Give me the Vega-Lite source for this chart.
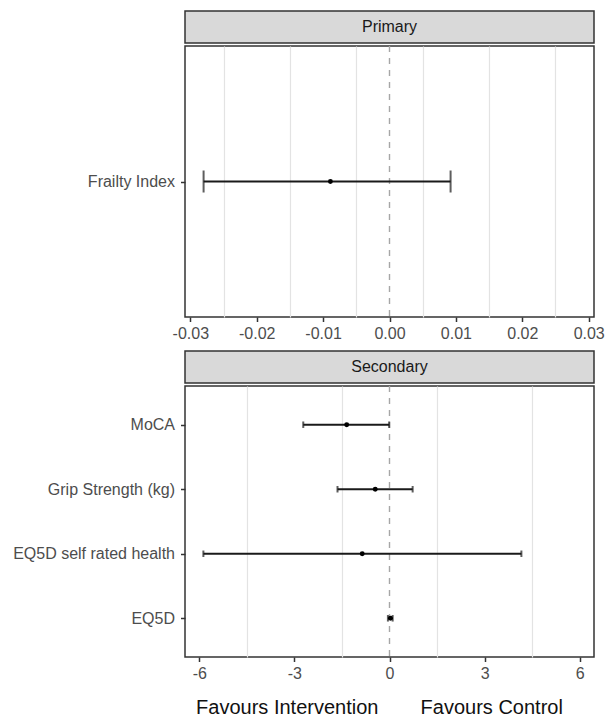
{
  "$schema": "https://vega.github.io/schema/vega-lite/v6.json",
  "padding": {"left": 11, "top": 10, "right": 4, "bottom": 0},
  "spacing": 0,
  "datasets": {
    "est": [
      {"panel": "Primary", "outcome": "Frailty Index", "est": -0.0089, "lo": -0.028, "hi": 0.0092},
      {"panel": "Secondary", "outcome": "MoCA", "est": -1.35, "lo": -2.72, "hi": -0.01},
      {"panel": "Secondary", "outcome": "Grip Strength (kg)", "est": -0.45, "lo": -1.64, "hi": 0.73},
      {"panel": "Secondary", "outcome": "EQ5D self rated health", "est": -0.86, "lo": -5.87, "hi": 4.16},
      {"panel": "Secondary", "outcome": "EQ5D", "est": 0.03, "lo": -0.05, "hi": 0.1}
    ],
    "panels": [{"panel": "Primary"}, {"panel": "Secondary"}],
    "footer": [{"label": "Favours Intervention"}, {"label": "Favours Control"}]
  },
  "config": {
    "font": "Liberation Sans",
    "view": {"stroke": "#333333", "strokeWidth": 1.5},
    "axis": {
      "labelFont": "Liberation Sans",
      "labelFontSize": 16,
      "labelColor": "#4D4D4D",
      "tickColor": "#333333",
      "tickWidth": 1.5,
      "tickSize": 4.5,
      "domain": false,
      "gridColor": "#E3E3E3",
      "gridWidth": 1.2
    }
  },
  "vconcat": [
    {
      "width": 409,
      "height": 32,
      "data": {"name": "panels"},
      "transform": [{"filter": "datum.panel === 'Primary'"}],
      "mark": {"type": "text", "fontSize": 16, "color": "#1A1A1A", "baseline": "middle", "align": "center"},
      "encoding": {"text": {"field": "panel"}},
      "view": {"fill": "#D9D9D9", "stroke": "#333333", "strokeWidth": 1.5}
    },
    {
      "width": 409,
      "height": 271,
      "data": {"name": "est"},
      "transform": [{"filter": "datum.panel === 'Primary'"}],
      "layer": [
        {
          "data": {"name": "panels"},
          "transform": [{"filter": "datum.panel === 'Primary'"}],
          "mark": {"type": "rule", "color": "#A6A6A6", "strokeDash": [6, 6], "strokeWidth": 1.4},
          "encoding": {"x": {"datum": 0, "type": "quantitative"}}
        },
        {
          "encoding": {
            "y": {
              "field": "outcome", "type": "nominal", "sort": ["Frailty Index"],
              "scale": {"type": "point", "padding": 0.6},
              "axis": {"title": null, "labelPadding": 6, "grid": false}
            }
          },
          "layer": [
            {
              "mark": {"type": "rule", "color": "#1A1A1A", "strokeWidth": 2},
              "encoding": {
                "x": {
                  "field": "lo", "type": "quantitative",
                  "scale": {"domain": [-0.0308, 0.0308], "nice": false, "zero": false},
                  "axis": {
                    "title": " ", "titleFontSize": 6, "titlePadding": 1,
                    "grid": true,
                    "tickCount": 30,
                    "values": [-0.03, -0.025, -0.02, -0.015, -0.01, -0.005, 0, 0.005, 0.01, 0.015, 0.02, 0.025, 0.03],
                    "labelPadding": 4,
                    "labelOverlap": false,
                    "labelExpr": "indexof([-0.03, -0.02, -0.01, 0, 0.01, 0.02, 0.03], datum.value) >= 0 ? (datum.value < 0 ? '-' : '') + format(abs(datum.value), '.2f') : ''",
                    "gridOpacity": {"condition": {"test": "indexof([-0.03, -0.02, -0.01, 0, 0.01, 0.02, 0.03], datum.value) >= 0", "value": 0}, "value": 1},
                    "tickOpacity": {"condition": {"test": "indexof([-0.03, -0.02, -0.01, 0, 0.01, 0.02, 0.03], datum.value) >= 0", "value": 1}, "value": 0}
                  }
                },
                "x2": {"field": "hi"}
              }
            },
            {
              "mark": {"type": "tick", "color": "#1A1A1A", "size": 22, "thickness": 2},
              "encoding": {"x": {"field": "lo", "type": "quantitative"}}
            },
            {
              "mark": {"type": "tick", "color": "#1A1A1A", "size": 22, "thickness": 2},
              "encoding": {"x": {"field": "hi", "type": "quantitative"}}
            },
            {
              "mark": {"type": "point", "filled": true, "color": "#000000", "size": 24, "opacity": 1},
              "encoding": {"x": {"field": "est", "type": "quantitative"}}
            }
          ]
        }
      ]
    },
    {
      "width": 409,
      "height": 32,
      "data": {"name": "panels"},
      "transform": [{"filter": "datum.panel === 'Secondary'"}],
      "mark": {"type": "text", "fontSize": 16, "color": "#1A1A1A", "baseline": "middle", "align": "center"},
      "encoding": {"text": {"field": "panel"}},
      "view": {"fill": "#D9D9D9", "stroke": "#333333", "strokeWidth": 1.5}
    },
    {
      "width": 409,
      "height": 271,
      "data": {"name": "est"},
      "transform": [{"filter": "datum.panel === 'Secondary'"}],
      "layer": [
        {
          "data": {"name": "panels"},
          "transform": [{"filter": "datum.panel === 'Secondary'"}],
          "mark": {"type": "rule", "color": "#A6A6A6", "strokeDash": [6, 6], "strokeWidth": 1.4},
          "encoding": {"x": {"datum": 0, "type": "quantitative"}}
        },
        {
          "encoding": {
            "y": {
              "field": "outcome", "type": "nominal",
              "sort": ["MoCA", "Grip Strength (kg)", "EQ5D self rated health", "EQ5D"],
              "scale": {"type": "point", "padding": 0.6},
              "axis": {"title": null, "labelPadding": 6, "grid": false}
            }
          },
          "layer": [
            {
              "mark": {"type": "rule", "color": "#1A1A1A", "strokeWidth": 2},
              "encoding": {
                "x": {
                  "field": "lo", "type": "quantitative",
                  "scale": {"domain": [-6.45, 6.45], "nice": false, "zero": false},
                  "axis": {
                    "title": null,
                    "grid": true,
                    "tickCount": 30,
                    "values": [-6, -4.5, -3, -1.5, 0, 1.5, 3, 4.5, 6],
                    "labelPadding": 4,
                    "labelOverlap": false,
                    "labelExpr": "datum.value % 3 == 0 ? (datum.value < 0 ? '-' : '') + format(abs(datum.value), 'd') : ''",
                    "gridOpacity": {"condition": {"test": "datum.value % 3 == 0", "value": 0}, "value": 1},
                    "tickOpacity": {"condition": {"test": "datum.value % 3 == 0", "value": 1}, "value": 0}
                  }
                },
                "x2": {"field": "hi"}
              }
            },
            {
              "mark": {"type": "tick", "color": "#1A1A1A", "size": 6.5, "thickness": 2},
              "encoding": {"x": {"field": "lo", "type": "quantitative"}}
            },
            {
              "mark": {"type": "tick", "color": "#1A1A1A", "size": 6.5, "thickness": 2},
              "encoding": {"x": {"field": "hi", "type": "quantitative"}}
            },
            {
              "mark": {"type": "point", "filled": true, "color": "#000000", "size": 24, "opacity": 1},
              "encoding": {"x": {"field": "est", "type": "quantitative"}}
            }
          ]
        }
      ]
    },
    {
      "width": 409,
      "height": 34,
      "data": {"name": "footer"},
      "mark": {"type": "text", "fontSize": 20, "color": "#111111", "baseline": "middle", "dy": 8},
      "encoding": {
        "x": {
          "field": "label", "type": "nominal",
          "sort": ["Favours Intervention", "Favours Control"],
          "scale": {"type": "point", "padding": 0.5},
          "axis": null
        },
        "text": {"field": "label"}
      },
      "view": {"stroke": null}
    }
  ]
}
